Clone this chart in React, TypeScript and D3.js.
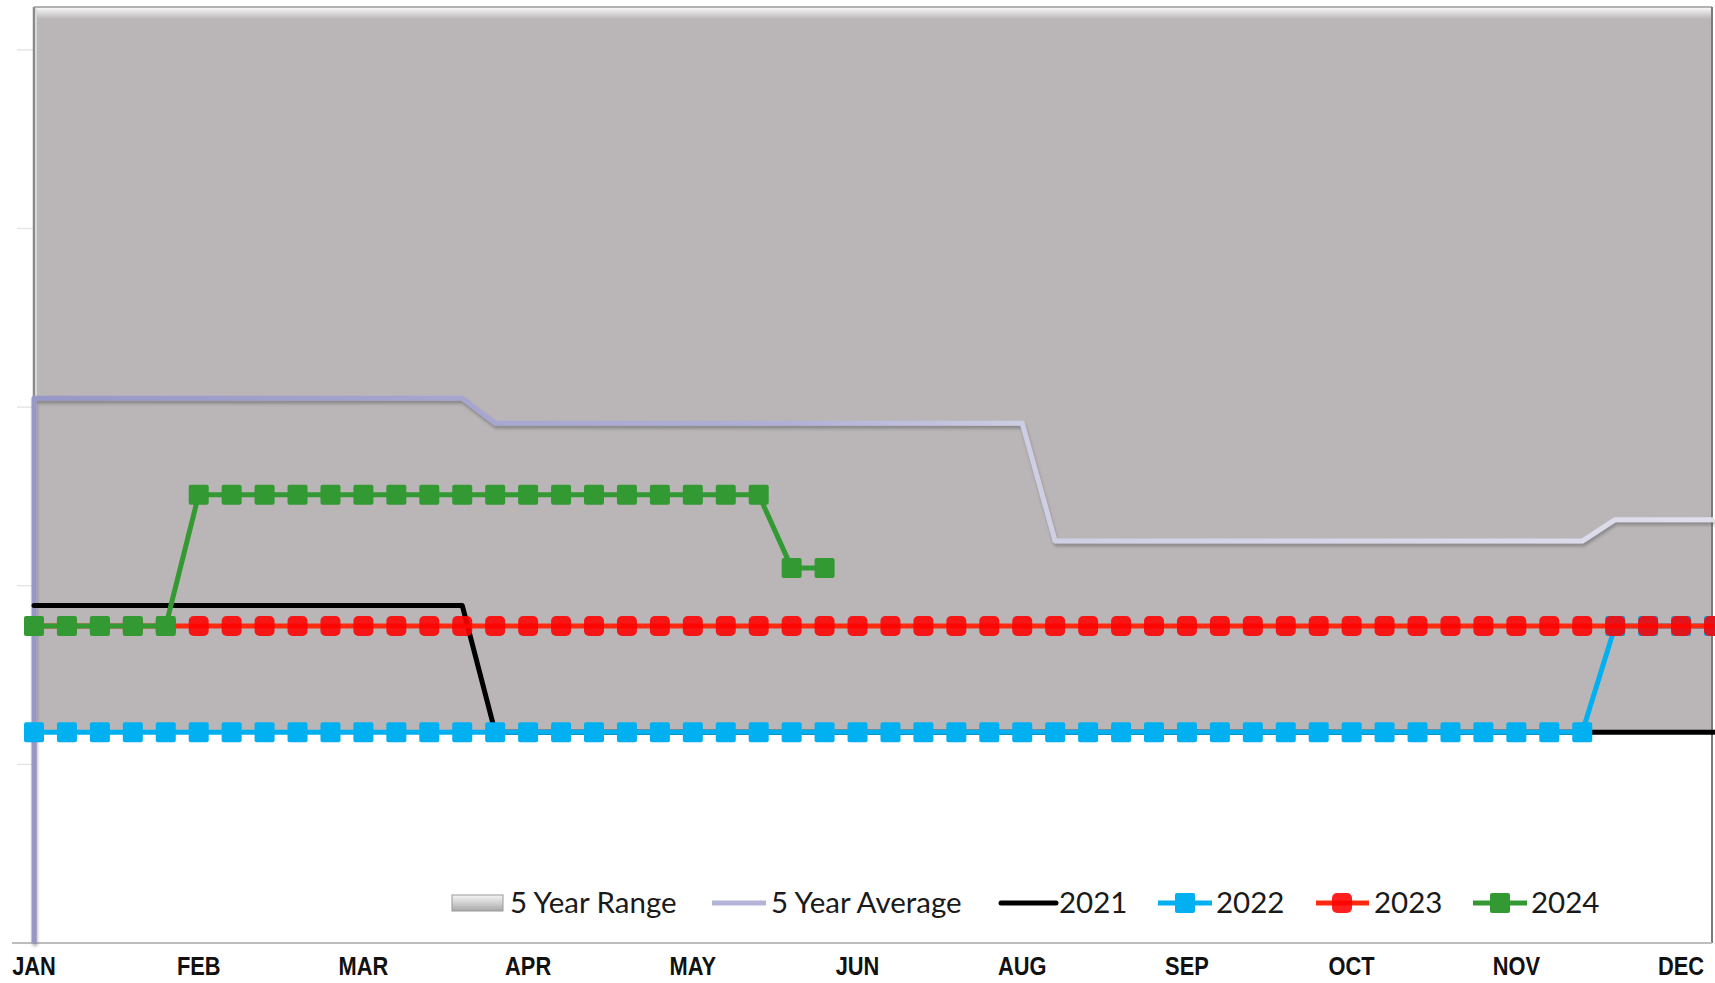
import React from "react";
import * as d3 from "d3";

const W = 1715;
const H = 983;

// weekly index 0..51
const monthLabels = ["JAN", "FEB", "MAR", "APR", "MAY", "JUN", "AUG", "SEP", "OCT", "NOV", "DEC"];
const monthWeeks = [0, 5, 10, 15, 20, 25, 30, 35, 40, 45, 50];
const yTicks = [0, 1, 2, 3, 4, 5];

const rangeMin = [
  1.18, 1.18, 1.18, 1.18, 1.18, 1.18, 1.18, 1.18, 1.18, 1.18, 1.18, 1.18, 1.18,
  1.18, 1.18, 1.18, 1.18, 1.18, 1.18, 1.18, 1.18, 1.18, 1.18, 1.18, 1.18, 1.18,
  1.18, 1.18, 1.18, 1.18, 1.18, 1.18, 1.18, 1.18, 1.18, 1.18, 1.18, 1.18, 1.18,
  1.18, 1.18, 1.18, 1.18, 1.18, 1.18, 1.18, 1.18, 1.18, 1.18, 1.18, 1.18, 1.18,
];
const rangeMax = [
  5.3, 5.3, 5.3, 5.3, 5.3, 5.3, 5.3, 5.3, 5.3, 5.3, 5.3, 5.3, 5.3,
  5.3, 5.3, 5.3, 5.3, 5.3, 5.3, 5.3, 5.3, 5.3, 5.3, 5.3, 5.3, 5.3,
  5.3, 5.3, 5.3, 5.3, 5.3, 5.3, 5.3, 5.3, 5.3, 5.3, 5.3, 5.3, 5.3,
  5.3, 5.3, 5.3, 5.3, 5.3, 5.3, 5.3, 5.3, 5.3, 5.3, 5.3, 5.3, 5.3,
];
const avgStart = 0;
const avg5 = [
  3.05, 3.05, 3.05, 3.05, 3.05, 3.05, 3.05, 3.05, 3.05, 3.05, 3.05, 3.05, 3.05, 3.05,
  2.91, 2.91, 2.91, 2.91, 2.91, 2.91, 2.91, 2.91, 2.91, 2.91, 2.91, 2.91, 2.91, 2.91,
  2.91, 2.91, 2.91,
  2.25, 2.25, 2.25, 2.25, 2.25, 2.25, 2.25, 2.25, 2.25, 2.25, 2.25, 2.25, 2.25, 2.25,
  2.25, 2.25, 2.25,
  2.37, 2.37, 2.37, 2.37,
];
const y2021 = [
  1.89, 1.89, 1.89, 1.89, 1.89, 1.89, 1.89, 1.89, 1.89, 1.89, 1.89, 1.89, 1.89, 1.89,
  1.18, 1.18, 1.18, 1.18, 1.18, 1.18, 1.18, 1.18, 1.18, 1.18, 1.18, 1.18, 1.18, 1.18,
  1.18, 1.18, 1.18, 1.18, 1.18, 1.18, 1.18, 1.18, 1.18, 1.18, 1.18, 1.18, 1.18, 1.18,
  1.18, 1.18, 1.18, 1.18, 1.18, 1.18, 1.18, 1.18, 1.18, 1.18,
];
const y2022 = [
  1.18, 1.18, 1.18, 1.18, 1.18, 1.18, 1.18, 1.18, 1.18, 1.18, 1.18, 1.18,
  1.18, 1.18, 1.18, 1.18, 1.18, 1.18, 1.18, 1.18, 1.18, 1.18, 1.18, 1.18,
  1.18, 1.18, 1.18, 1.18, 1.18, 1.18, 1.18, 1.18, 1.18, 1.18, 1.18, 1.18,
  1.18, 1.18, 1.18, 1.18, 1.18, 1.18, 1.18, 1.18, 1.18, 1.18, 1.18, 1.18,
  1.775, 1.775, 1.775, 1.775,
];
const y2023 = [
  1.775, 1.775, 1.775, 1.775, 1.775, 1.775, 1.775, 1.775, 1.775, 1.775, 1.775, 1.775, 1.775,
  1.775, 1.775, 1.775, 1.775, 1.775, 1.775, 1.775, 1.775, 1.775, 1.775, 1.775, 1.775, 1.775,
  1.775, 1.775, 1.775, 1.775, 1.775, 1.775, 1.775, 1.775, 1.775, 1.775, 1.775, 1.775, 1.775,
  1.775, 1.775, 1.775, 1.775, 1.775, 1.775, 1.775, 1.775, 1.775, 1.775, 1.775, 1.775, 1.775,
];
const y2024 = [
  1.775, 1.775, 1.775, 1.775, 1.775,
  2.51, 2.51, 2.51, 2.51, 2.51, 2.51, 2.51, 2.51, 2.51, 2.51, 2.51, 2.51, 2.51, 2.51,
  2.51, 2.51, 2.51, 2.51,
  2.1, 2.1,
];

const plot = { left: 34, right: 1712, top: 7, bottom: 943 };

export default function App() {
  const x = d3.scaleLinear().domain([0, 51]).range([34, 1714]);
  const y = d3.scaleLinear().domain([0, 5.24]).range([plot.bottom, plot.top]);

  const line = d3
    .line<number>()
    .x((_, i) => x(i))
    .y((d) => y(d));

  const area = d3
    .area<number>()
    .x((_, i) => x(i))
    .y0((_, i) => y(rangeMin[i]))
    .y1((d) => y(d));

  const avgPts: [number, number][] = [[x(0), y(avgStart)], ...avg5.map((v, i) => [x(i), y(v)] as [number, number])];
  const avgPath = d3.line()(avgPts) || "";

  const mk = 20;

  const markers = (vals: number[], color: string, rx: number, opacity = 1) =>
    vals.map((v, i) => (
      <rect
        key={i}
        x={x(i) - mk / 2}
        y={y(v) - mk / 2}
        width={mk}
        height={mk}
        rx={rx}
        fill={color}
        opacity={opacity}
      />
    ));

  const legendY = 903;
  const legendFont = "Lato, 'Open Sans', sans-serif";
  const lf = 29.5;
  const labelY = 975;
  const sx = 0.84;

  return (
    <div style={{ position: "absolute", left: 0, top: 0, width: W, height: H, overflow: "hidden", background: "#fff" }}>
      <svg width={W} height={H} style={{ display: "block" }}>
        <defs>
          <linearGradient id="avgGrad" gradientUnits="userSpaceOnUse" x1={plot.left} x2={plot.right} y1={0} y2={0}>
            <stop offset="0" stopColor="#9898c8" />
            <stop offset="0.45" stopColor="#b0b0d6" />
            <stop offset="0.6" stopColor="#cfcfe4" />
            <stop offset="1" stopColor="#dedeec" />
          </linearGradient>
          <linearGradient id="topBevel" x1="0" x2="0" y1="0" y2="1">
            <stop offset="0" stopColor="#ffffff" stopOpacity="0.95" />
            <stop offset="1" stopColor="#ffffff" stopOpacity="0" />
          </linearGradient>
          <linearGradient id="legRange" x1="0" x2="0" y1="0" y2="1">
            <stop offset="0" stopColor="#f4f4f4" />
            <stop offset="0.5" stopColor="#d0d0d0" />
            <stop offset="1" stopColor="#a8a8a8" />
          </linearGradient>
          <filter id="shadow" x="-5%" y="-20%" width="110%" height="160%">
            <feDropShadow dx="1" dy="3" stdDeviation="1.5" floodColor="#555" floodOpacity="0.45" />
          </filter>
          <clipPath id="plotClip">
            <rect x={plot.left} y={plot.top} width={plot.right - plot.left} height={plot.bottom - plot.top} />
          </clipPath>
        </defs>

        {/* y tick marks (faint) */}
        {yTicks.map((t) => (
          <line key={t} x1={17} x2={plot.left} y1={y(t)} y2={y(t)} stroke="#e6e6e6" strokeWidth={1.5} />
        ))}

        {/* 5 Year Range */}
        <g clipPath="url(#plotClip)">
          <path d={area(rangeMax) || ""} fill="#bab6b7" />
          <rect x={plot.left} y={plot.top} width={plot.right - plot.left} height={12} fill="url(#topBevel)" />
        </g>

        {/* plot frame */}
        <line x1={plot.left} x2={plot.left} y1={plot.top} y2={plot.bottom} stroke="#8a8a8a" strokeWidth={2.5} />
        <line x1={plot.left} x2={plot.right} y1={plot.top} y2={plot.top} stroke="#9a9a9a" strokeWidth={1.5} />
        <line x1={plot.right} x2={plot.right} y1={plot.top} y2={plot.bottom} stroke="#7a7a7a" strokeWidth={2} />
        <line x1={12} x2={plot.right} y1={plot.bottom} y2={plot.bottom} stroke="#bdbdbd" strokeWidth={2} />
        <line x1={plot.left + 2} x2={plot.left + 2} y1={plot.top + 2} y2={plot.bottom} stroke="#d8d8d8" strokeWidth={2} />

        {/* 5 Year Average */}
        <path d={avgPath} fill="none" stroke="url(#avgGrad)" strokeWidth={5} strokeLinejoin="round" filter="url(#shadow)" />

        {/* 2021 */}
        <path d={line(y2021) || ""} fill="none" stroke="#000" strokeWidth={5} strokeLinejoin="round" strokeLinecap="round" />

        {/* 2022 */}
        <path d={line(y2022) || ""} fill="none" stroke="#00b0f0" strokeWidth={5} strokeLinejoin="round" />
        {markers(y2022, "#00b0f0", 2)}

        {/* 2023 */}
        <path d={line(y2023) || ""} fill="none" stroke="#ff2a10" strokeWidth={5} strokeLinejoin="round" />
        {markers(y2023, "#ff0000", 5, 0.88)}

        {/* 2024 */}
        <path d={line(y2024) || ""} fill="none" stroke="#339933" strokeWidth={5} strokeLinejoin="round" />
        {markers(y2024, "#339933", 2)}

        {/* x labels */}
        {monthLabels.map((m, i) => (
          <text
            key={m}
            transform={`translate(${x(monthWeeks[i])},${labelY}) scale(${sx},1)`}
            textAnchor="middle"
            fontFamily="'Liberation Sans', Arial, sans-serif"
            fontWeight="bold"
            fontSize={26}
            fill="#111"
          >
            {m}
          </text>
        ))}

        {/* legend */}
        <g fontFamily={legendFont} fontSize={lf} fill="#1a1a1a">
          <rect x={452} y={legendY - 8} width={51} height={16} fill="url(#legRange)" stroke="#9a9a9a" strokeWidth={1} />
          <text x={510} y={legendY + 10}>5 Year Range</text>

          <line x1={712} x2={766} y1={legendY} y2={legendY} stroke="#b4b4d8" strokeWidth={5} />
          <text x={771} y={legendY + 10}>5 Year Average</text>

          <line x1={1001} x2={1056} y1={legendY} y2={legendY} stroke="#000" strokeWidth={5} strokeLinecap="round" />
          <text x={1059} y={legendY + 10}>2021</text>

          <line x1={1158} x2={1212} y1={legendY} y2={legendY} stroke="#00b0f0" strokeWidth={5} />
          <rect x={1185 - mk / 2} y={legendY - mk / 2} width={mk} height={mk} rx={2} fill="#00b0f0" />
          <text x={1216} y={legendY + 10}>2022</text>

          <line x1={1316} x2={1369} y1={legendY} y2={legendY} stroke="#ff2a10" strokeWidth={5} />
          <rect x={1342 - mk / 2} y={legendY - mk / 2} width={mk} height={mk} rx={5} fill="#ff0000" opacity={0.88} />
          <text x={1374} y={legendY + 10}>2023</text>

          <line x1={1473} x2={1527} y1={legendY} y2={legendY} stroke="#339933" strokeWidth={5} />
          <rect x={1500 - mk / 2} y={legendY - mk / 2} width={mk} height={mk} rx={2} fill="#339933" />
          <text x={1531} y={legendY + 10}>2024</text>
        </g>
      </svg>
    </div>
  );
}
